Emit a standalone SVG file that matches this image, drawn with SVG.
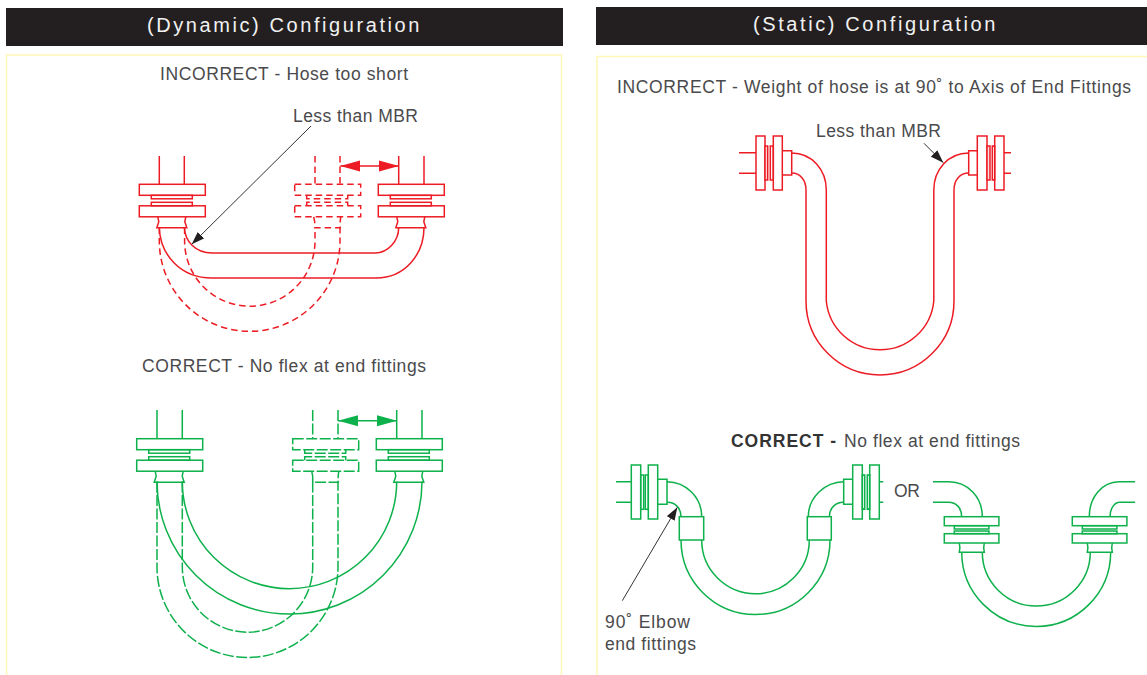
<svg xmlns="http://www.w3.org/2000/svg" xmlns:xlink="http://www.w3.org/1999/xlink" width="1147" height="675" viewBox="0 0 1147 675">
<style>
text{font-family:"Liberation Sans",Arial,sans-serif;fill:#4a4a4c}
.hdr{font-size:20px;fill:#f1f1f1;letter-spacing:1.6px}
.lbl{font-size:17.5px}
.b{font-weight:bold;fill:#333}
.panel{fill:#fff;stroke:#fff8b8;stroke-width:1.5}
.red{stroke:#ed1c24;fill:none;stroke-width:1.5}
.green{stroke:#0db14b;fill:none;stroke-width:1.5}
.rd{stroke-dasharray:6.500 4}
.gd{stroke-dasharray:11 2.500}
.leader{stroke:#333;stroke-width:1;fill:none}
</style>
<defs>
<marker id="ar" markerUnits="userSpaceOnUse" markerWidth="20" markerHeight="12" refX="20" refY="6" orient="auto-start-reverse"><path d="M0,0.5L20,6L0,11.5Z" fill="#ed1c24"/></marker>
<marker id="ag" markerUnits="userSpaceOnUse" markerWidth="20" markerHeight="12" refX="20" refY="6" orient="auto-start-reverse"><path d="M0,0.5L20,6L0,11.5Z" fill="#0db14b"/></marker>
<marker id="ak" markerUnits="userSpaceOnUse" markerWidth="13" markerHeight="10" refX="13" refY="5" orient="auto"><path d="M0,0.5L13,5L0,9.5Z" fill="#231f20"/></marker>
<g id="vfit">
<rect x="0" y="0" width="66" height="11"/>
<rect x="0" y="21.5" width="66" height="11"/>
<rect x="12" y="11" width="41" height="3.5"/>
<rect x="12" y="18" width="41" height="3.5"/>
<path d="M18.5,32.5L19.5,37.5L17.5,43.5H47.5L45.5,37.5L46.5,32.5"/>
</g>
<g id="vfitd">
<rect x="0" y="0" width="66" height="11"/>
<rect x="0" y="21.5" width="66" height="11"/>
<path d="M12,11V14.5H53V11M12,21.5V18H53V21.5"/>
<path d="M19,32.5L20,37.5V43.500H45.500V37.500L46,32.5"/>
</g>
<g id="vflange">
<rect x="0" y="0" width="54.6" height="9"/>
<rect x="0" y="17" width="54.6" height="9.3"/>
<rect x="10" y="9" width="34.6" height="3.3"/>
<rect x="10" y="14.3" width="34.6" height="2.7"/>
<path d="M15,26.3L15.6,31L15,35.5H40L39.4,31L40,26.3"/>
</g>
</defs>
<g id="panel-dynamic">
<rect x="6" y="8" width="557" height="38" fill="#231f20"/>
<rect class="panel" x="6.5" y="55" width="555" height="640"/>
<text class="hdr" x="147" y="32" textLength="274">(Dynamic) Configuration</text>
</g>
<g id="panel-static">
<rect x="596" y="7" width="551" height="38" fill="#231f20"/>
<rect class="panel" x="597" y="56.500" width="570" height="640"/>
<text class="hdr" x="753" y="31" textLength="244">(Static) Configuration</text>
</g>
<g id="labels">
<text class="lbl" x="160" y="80" textLength="248">INCORRECT - Hose too short</text>
<text class="lbl" x="293" y="122" textLength="125">Less than MBR</text>
<text class="lbl" x="142" y="372" textLength="284">CORRECT - No flex at end fittings</text>
<text class="lbl" x="617" y="93" textLength="514">INCORRECT - Weight of hose is at 90˚ to Axis of End Fittings</text>
<text class="lbl" x="816" y="137" textLength="125">Less than MBR</text>
<text class="lbl b" x="731" y="447" textLength="105">CORRECT -</text>
<text class="lbl" x="844" y="447" textLength="176">No flex at end fittings</text>
<text class="lbl" x="894" y="497" textLength="26">OR</text>
<text class="lbl" x="605" y="628" textLength="85">90˚ Elbow</text>
<text class="lbl" x="605" y="650" textLength="91">end fittings</text>
</g>
<g id="node-dyn-incorrect" class="red">
<use xlink:href="#vfit" href="#vfit" x="139.3" y="184.300"/>
<use xlink:href="#vfit" href="#vfit" x="378.3" y="184.300"/>
<path d="M159.300,156V184.300M184.300,156V184.300M398.700,156V184.300M424,156V184.300"/>
<g class="rd">
<use xlink:href="#vfitd" href="#vfitd" x="294.700" y="184.300"/>
<path d="M315,156V184.300M340,156V184.300"/>
</g>
</g>
<g id="node-dyn-correct" class="green">
<use xlink:href="#vfit" href="#vfit" x="136.700" y="438.700"/>
<use xlink:href="#vfit" href="#vfit" x="376.300" y="438.700"/>
<path d="M157,410V438.700M182.300,410V438.700M396.700,410V438.700M422,410V438.700"/>
<g class="gd">
<use xlink:href="#vfitd" href="#vfitd" x="292.700" y="438.700"/>
<path d="M312.700,410V438.700M338,410V438.700"/>
</g>
</g>
<g id="node-static-incorrect" class="red">
<path d="M739,152.700H756M739,173.300H756M1004,152.700H1011M1004,173.300H1011"/>
<rect x="756" y="136" width="9" height="54"/>
<rect x="773.300" y="136" width="9" height="54"/>
<rect x="765" y="146" width="2.700" height="34" fill="#fbdcdc"/>
<rect x="770.300" y="146" width="3" height="34"/>
<rect x="977.300" y="136" width="9.700" height="54"/>
<rect x="994.700" y="136" width="9.300" height="54"/>
<rect x="987" y="146" width="3" height="34" fill="#fbdcdc"/>
<rect x="992.300" y="146" width="2.400" height="34"/>
<path d="M782.300,150.700H791.700V175H782.300"/>
<path d="M977.300,150.700H968.700V175H977.300"/>
</g>
<g id="node-static-correct-a" class="green">
<path d="M616,481.700H631.300M616,502.300H631.300M879.300,481.700H883.300M879.300,502.300H883.300"/>
<rect x="631.300" y="465" width="9.400" height="54"/>
<rect x="648.300" y="465" width="9.400" height="54"/>
<rect x="640.700" y="475" width="3" height="34.300"/>
<rect x="645.300" y="475" width="3" height="34.300"/>
<rect x="852.700" y="465" width="9.600" height="54"/>
<rect x="869.700" y="465" width="9.600" height="54"/>
<rect x="862.300" y="475" width="2.400" height="34.300"/>
<rect x="867.300" y="475" width="2.400" height="34.300"/>
<path d="M657.700,479.300H667V504.300H657.700"/>
<path d="M852.700,479.300H843.700V504.300H852.700"/>
<rect x="679.300" y="516.700" width="24.400" height="23.300"/>
<rect x="807.300" y="516.700" width="24" height="23.300"/>
</g>
<g id="node-static-correct-b" class="green">
<use xlink:href="#vflange" href="#vflange" x="944.300" y="516.700"/>
<use xlink:href="#vflange" href="#vflange" x="1072.300" y="516.700"/>
</g>
<g id="connectors">
<g class="red">
<path d="M184.300,227.500C185,241 195,253 212,253H375C388,253 398.700,241 398.700,227.500"/>
<path d="M159.300,227.500C160,254 180,278 212,278H376C405,278 424,254 424,227.500"/>
<g class="rd">
<path d="M184.600,227.500V241A65,65 0 0 0 315,241V227.500"/>
<path d="M159.300,227.500V241A90.300,90.300 0 0 0 340,241V227.500"/>
</g>
<path d="M340.300,166H399" marker-start="url(#ar)" marker-end="url(#ar)"/>
<path d="M791.700,153C812,153 826.300,170 826.300,190V301A54,54 0 0 0 933.800,301V190C933.800,170 948,153 968.700,153"/>
<path d="M791.700,173C800,173 806,180 806,190V301A74,74 0 0 0 954,301V190C954,180 960,173 968.700,173"/>
</g>
<g class="green">
<path d="M182.300,481.500A107.200,107.200 0 0 0 396.700,481.500"/>
<path d="M157,481.500A132.500,132.500 0 0 0 422,481.500"/>
<g class="gd">
<path d="M182.300,481.500V567A65.200,65.200 0 0 0 312.700,567V481.500"/>
<path d="M157,481.500V567A90.500,90.500 0 0 0 338,567V481.500"/>
</g>
<path d="M338,420.700H397" marker-start="url(#ag)" marker-end="url(#ag)"/>
<path d="M667,481.700C686,482 701.700,497 701.700,516.700M667,502.300C675,502 681,508 681,516.700"/>
<path d="M843.700,481.700C825,482 808.300,497 808.300,516.700M843.700,502.300C836,502 829.300,508 829.300,516.700"/>
<path d="M701.700,540A53.800,53.800 0 0 0 809.300,540M681,540A74.500,74.500 0 0 0 830,540"/>
<path d="M933,481.700H949C968,482 982.300,497 982.300,516.700M933,502.300H948C956,502 961.700,508 961.700,516.700"/>
<path d="M1135,481.700H1119C1102,482 1089.300,497 1089.300,516.700M1135,502.300H1120C1115,502 1110,508 1110,516.700"/>
<path d="M982.300,552A54,54 0 0 0 1090.300,552M961.700,552A74.500,74.500 0 0 0 1110.700,552"/>
</g>
<path class="leader" d="M311,126L191.700,244.300" marker-end="url(#ak)"/>
<path class="leader" d="M924,143.300L943.300,162.700" marker-end="url(#ak)"/>
<path class="leader" d="M622.300,600.700L677.300,507.300" marker-end="url(#ak)"/>
</g>
</svg>
